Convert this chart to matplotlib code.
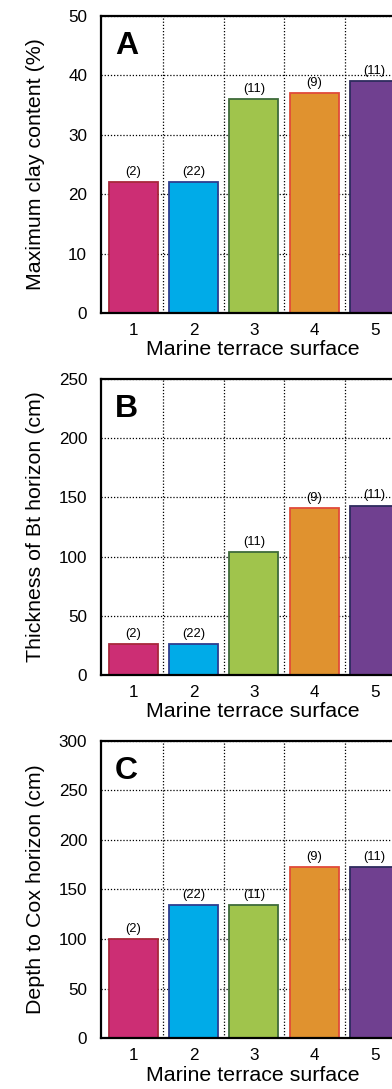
import matplotlib
matplotlib.use("Agg")
import matplotlib.pyplot as plt
from matplotlib.ticker import FixedLocator

plt.rcParams["font.family"] = ["Liberation Sans", "DejaVu Sans"]

# ----------------------------
# Data
# ----------------------------
surfaces = [1, 2, 3, 4, 5]
sample_counts = ["(2)", "(22)", "(11)", "(9)", "(11)"]

clay_max = [22, 22, 36, 37, 39]          # %
bt_thickness = [26, 26, 104, 141, 143]   # cm
cox_depth = [100, 134, 134, 173, 173]    # cm

fill_colors = ["#CC2E74", "#00ABE8", "#A0C44C", "#E0922F", "#704090"]
edge_colors = ["#A8283C", "#2E3D8F", "#3E6B3A", "#E04A3A", "#2D2B5E"]

panels = [
    ("A", clay_max, "Maximum clay content (%)", 50, 10),
    ("B", bt_thickness, "Thickness of Bt horizon (cm)", 250, 50),
    ("C", cox_depth, "Depth to Cox horizon (cm)", 300, 50),
]

# axes boxes in figure fraction (right edge runs past the picture, as in the crop)
boxes = [
    (0.258, 0.7126, 0.775, 0.2727),
    (0.258, 0.3802, 0.775, 0.2718),
    (0.258, 0.0468, 0.775, 0.2728),
]

fig = plt.figure(figsize=(3.92, 10.89), dpi=100)

for (letter, values, ylabel, ymax, ystep), box in zip(panels, boxes):
    ax = fig.add_axes(box)
    ax.bar(surfaces, values, width=0.81, color=fill_colors,
           edgecolor=edge_colors, linewidth=1.3, zorder=2)

    for x, v, n in zip(surfaces, values, sample_counts):
        ax.annotate(n, (x, v), xytext=(0, 3), textcoords="offset points",
                    ha="center", va="bottom", fontsize=9.3, zorder=3)

    ax.set_xlim(0.47, 5.5)
    ax.set_ylim(0, ymax)
    ax.set_xticks(surfaces)
    ax.xaxis.set_minor_locator(FixedLocator([1.5, 2.5, 3.5, 4.5]))
    ax.set_yticks(range(0, ymax + 1, ystep))

    ax.grid(axis="y", which="major", linestyle=(0, (1, 1.5)), color="black", linewidth=0.9)
    ax.grid(axis="x", which="minor", linestyle=(0, (1, 1.5)), color="black", linewidth=0.9)
    ax.set_axisbelow(True)

    ax.tick_params(axis="both", which="both", length=0, labelsize=12.3)
    ax.tick_params(axis="y", pad=10)
    ax.tick_params(axis="x", pad=7)

    for side in ["left", "bottom", "top", "right"]:
        ax.spines[side].set_linewidth(1.6)

    ax.set_xlabel("Marine terrace surface", fontsize=15.4, labelpad=2)
    ax.set_ylabel(ylabel, fontsize=15.4)
    ax.yaxis.set_label_coords(-0.185, 0.5)

    ax.text(0.045, 0.95, letter, transform=ax.transAxes, fontsize=23,
            fontweight="bold", ha="left", va="top")

fig.savefig("out.png", dpi=100)
